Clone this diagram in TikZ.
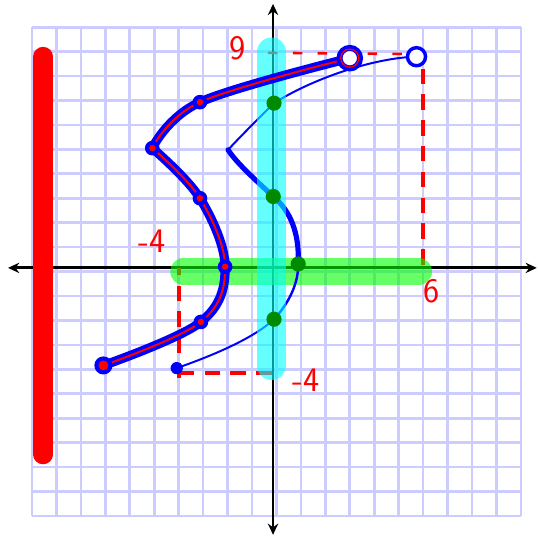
\documentclass[tikz,border=0pt]{standalone}
\usepackage{tikz}
\usetikzlibrary{arrows.meta}
\definecolor{gridlav}{HTML}{CCCCFF}
\definecolor{penred}{HTML}{FF0000}
\definecolor{penblue}{HTML}{0000FF}
\definecolor{dotgreen}{HTML}{008A00}
\definecolor{bandcyan}{RGB}{0,255,255}
\definecolor{bandgreen}{RGB}{0,255,0}
\tikzset{
  gridline/.style={draw=gridlav,line width=3.2pt},
  axisline/.style={{Stealth[length=13pt,width=12pt]}-{Stealth[length=13pt,width=12pt]},line width=3.4pt,black},
  band/.style={line width=#1,line cap=round,opacity=0.6},
  reddash/.style={draw=penred,line width=#1,dash pattern=on 18pt off 12pt},
  reddash/.default={4.5pt},
  fcurve/.style={draw=penblue,double=penred,double distance=2.3pt,line width=4.2pt,
    line cap=round,line join=round},
  gthin/.style={draw=penblue,line width=2.3pt,line cap=round},
  gthick/.style={draw=penblue,line width=6pt,line cap=round},
  greendot/.style={circle,fill=dotgreen,inner sep=0pt,minimum size=#1},
  greendot/.default={0.62cm},
  handlabel/.style={text=penred,font=\sffamily\fontsize{40}{40}\selectfont,inner sep=0pt},
}
\begin{document}
\begin{tikzpicture}
  \useasboundingbox (-11.31,-10.81) rectangle (10.70,11.11);
  % grid and axes
  \draw[gridline] (-10,-10) grid (10,10);
  \coordinate (xl) at (-10.98,0.15);
  \coordinate (xr) at (10.65,0.15);
  \coordinate (yb) at (-0.14,-10.77);
  \coordinate (yt) at (-0.14,10.95);
  \draw[axisline] (xl) -- (xr);
  \draw[axisline] (yb) -- (yt);
  % points of f and of the shifted graph
  \coordinate (f1) at (-7.08,-3.84);
  \coordinate (f2) at (-3.09,-2.06);
  \coordinate (f3) at (-2.1,0.2);
  \coordinate (f4) at (-3.13,3.0);
  \coordinate (f5) at (-5.08,5.05);
  \coordinate (f6) at (-3.13,6.93);
  \coordinate (f7) at (3.0,8.73);
  \coordinate (g1) at (-4.08,-3.95);
  \coordinate (g2) at (-0.1,-1.95);
  \coordinate (g3) at (0.89,0.31);
  \coordinate (g4) at (-0.13,3.07);
  \coordinate (g5) at (-1.98,4.98);
  \coordinate (g6) at (-0.1,6.89);
  \coordinate (g7) at (5.73,8.79);
  % dashed guides
  \draw[reddash] (-3.99,-4.37) -- (-3.99,0.15);
  \draw[reddash] (-3.99,-4.15) -- (0.05,-4.15);
  \draw[reddash] (5.99,8.3) -- (5.99,0.15);
  \draw[reddash=3pt,dash pattern=on 11pt off 18pt] (-0.35,8.95) -- (5.4,8.9);
  % domain band
  \draw[band=31pt,draw=bandgreen] (-3.8,0) -- (5.82,0);
  % shifted graph
  \draw[gthin] (g1) .. controls (-2.5,-3.4) and (-0.9,-2.7) .. (g2);
  \draw[gthin,line width=2.8pt] (g2) .. controls (0.5,-1.3) and (0.9,-0.5) .. (g3);
  \draw[gthick] (g3) .. controls (0.95,1.6) and (0.55,2.5) .. (g4);
  \draw[gthick] (g4) .. controls (-0.8,3.7) and (-1.6,4.4) .. (g5);
  \draw[gthin] (g5) .. controls (-1.5,5.5) and (-0.7,6.3) .. (g6);
  \draw[gthin] (g6) .. controls (1.5,7.9) and (4,8.75) .. (g7);
  % range band
  \draw[band=34pt,draw=bandcyan] (-0.2,8.98) -- (-0.2,-3.84);
  % f
  \draw[fcurve] plot[smooth,tension=0.6] coordinates {(f1) (f2) (f3) (f4) (f5)}
    -- plot[smooth,tension=0.6] coordinates {(f5) (f6) (f7)};
  \fill[penblue] (f1) circle (0.37);
  \fill[penred] (f1) circle (0.2);
  \foreach \p in {f2,f3,f4,f5,f6}{
    \fill[penblue] (\p) circle (0.3);
    \fill[penred] (\p) circle (0.13);
  }
  \draw[penblue,line width=7pt,fill=white] (f7) circle (0.42);
  \draw[penred,line width=1.5pt] (f7) circle (0.37);
  % end points of the shifted graph
  \fill[penblue] (g1) circle (0.25);
  \draw[penblue,line width=4pt,fill=white] (g7) circle (0.37);
  \node[greendot] (dg2) at (g2) {};
  \node[greendot] (dg3) at (g3) {};
  \node[greendot] (dg4) at (g4) {};
  \node[greendot] (dg6) at (g6) {};
  % bar
  \draw[penred,line width=23pt,line cap=round] (-9.54,8.79) -- (-9.54,-7.48);
  % labels
  \node[handlabel] (lbltop) at (-1.61,9.15) {9};
  \node[handlabel] (lblleft) at (-5.09,1.26) {-4};
  \node[handlabel] (lblright) at (6.36,-0.79) {6};
  \node[handlabel] (lblbottom) at (1.21,-4.43) {-4};
\end{tikzpicture}
\end{document}
